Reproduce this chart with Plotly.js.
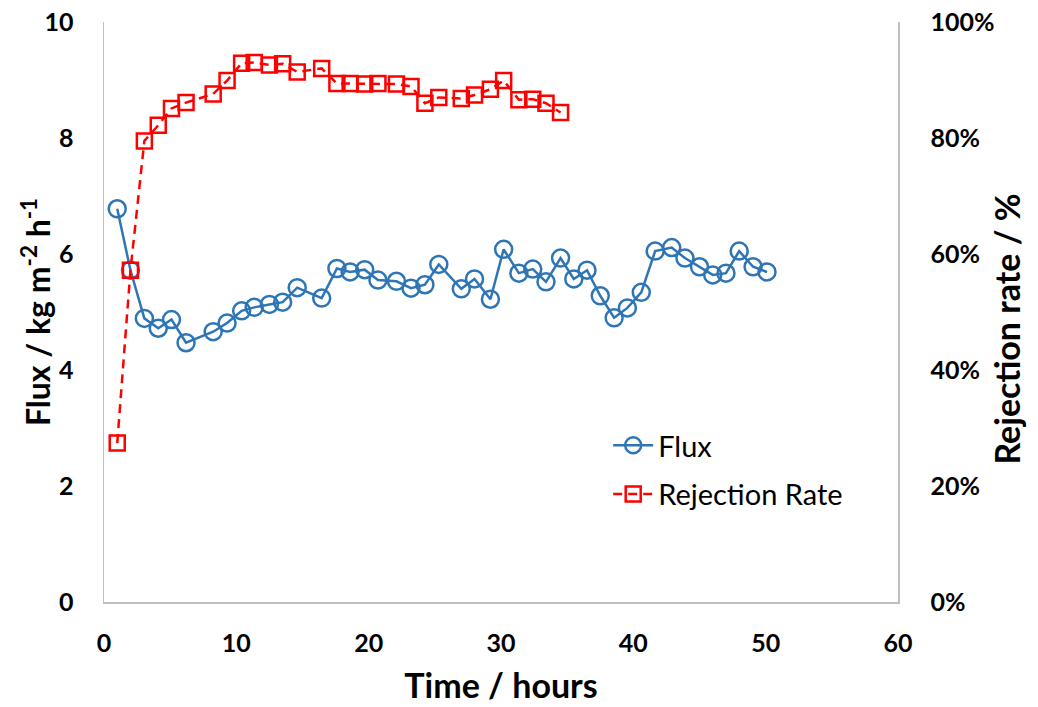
<!DOCTYPE html>
<html>
<head>
<meta charset="utf-8">
<script src="https://cdn.plot.ly/plotly-3.0.1.min.js"></script>
<style>html,body{margin:0;padding:0;background:#fff;}#chart{width:1038px;height:707px;}</style>
</head>
<body>
<div id="chart"></div>
<script>
// Time in hours
const timeHours = [1.0, 2.0, 3.05, 4.1, 5.1, 6.2, 8.25, 9.3, 10.4, 11.35, 12.5, 13.5, 14.6, 16.45, 17.6,
  18.6, 19.7, 20.7, 22.1, 23.2, 24.25, 25.3, 27.0, 28.0, 29.2, 30.2, 31.35, 32.4, 33.4, 34.5,
  35.5, 36.5, 37.5, 38.55, 39.55, 40.6, 41.65, 42.9, 43.9, 45.0, 46.0, 47.0, 48.0, 49.05, 50.1];
// Flux / kg m-2 h-1
const flux = [6.78, 5.72, 4.89, 4.72, 4.87, 4.47, 4.66, 4.81, 5.02, 5.08, 5.13, 5.17, 5.42, 5.24, 5.75,
  5.69, 5.73, 5.55, 5.53, 5.41, 5.47, 5.82, 5.40, 5.57, 5.22, 6.08, 5.67, 5.74, 5.52, 5.93,
  5.57, 5.72, 5.28, 4.90, 5.07, 5.34, 6.05, 6.11, 5.93, 5.78, 5.64, 5.67, 6.05, 5.78, 5.69];
// Rejection rate (fraction)
const rejection = [0.274, 0.572, 0.795, 0.822, 0.851, 0.861, 0.876, 0.899, 0.929, 0.930, 0.926, 0.928, 0.914, 0.920, 0.894,
  0.894, 0.893, 0.894, 0.893, 0.889, 0.860, 0.870, 0.868, 0.874, 0.884, 0.899, 0.866, 0.867, 0.860, 0.844];
const xTicks = [0, 10, 20, 30, 40, 50, 60];

const FONT = 'Lato, "Liberation Sans", sans-serif';
const blue = '#2E75B6';
const red = '#FF0000';

const traces = [
  {
    x: timeHours, y: flux, name: 'Flux', type: 'scatter', mode: 'lines+markers', legendgroup: 'a',
    line: {color: blue, width: 2.5},
    marker: {symbol: 'circle-open', size: 17, color: blue, line: {width: 2.5, color: blue}},
    yaxis: 'y'
  },
  {
    x: timeHours.slice(0, rejection.length), y: rejection, name: 'Rejection Rate', type: 'scatter', mode: 'lines+markers', legendgroup: 'b',
    line: {color: red, width: 2.5, dash: '9px,6px'},
    marker: {symbol: 'square-open', size: 15, color: red, line: {width: 2.5, color: red}},
    yaxis: 'y2'
  }
];

const layout = {
  width: 1038, height: 707,
  margin: {l: 104, r: 140, t: 22, b: 105},
  paper_bgcolor: '#fff', plot_bgcolor: '#fff',
  font: {family: FONT, color: '#000'},
  showlegend: true,
  legend: {x: 0.635, y: 0.314, xanchor: 'left', yanchor: 'top', font: {size: 29, family: FONT, color: '#000'},
    bgcolor: 'rgba(0,0,0,0)', tracegroupgap: 8, itemwidth: 40},
  xaxis: {
    range: [0, 60], tickvals: xTicks, ticktext: xTicks.map(String),
    showgrid: false, zeroline: false, showline: true, linecolor: '#BFBFBF', linewidth: 1.5,
    ticks: '', ticklabelstandoff: 18,
    tickfont: {size: 25, family: FONT, weight: 'bold'},
    title: {text: '<b>Time / hours</b>', font: {size: 34, family: FONT}, standoff: 18}
  },
  yaxis: {
    range: [0, 10], dtick: 2, showgrid: false, zeroline: false,
    showline: true, linecolor: '#BFBFBF', linewidth: 1.5, ticks: '', ticklabelstandoff: 24,
    tickfont: {size: 25, family: FONT, weight: 'bold'}
  },
  yaxis2: {
    range: [0, 1], dtick: 0.2, tickformat: '.0%', overlaying: 'y', side: 'right',
    showgrid: false, zeroline: false, showline: true, linecolor: '#BFBFBF', linewidth: 1.5,
    ticks: '', ticklabelstandoff: 26,
    tickfont: {size: 25, family: FONT, weight: 'bold'}
  },
  annotations: [
    {
      text: '<b>Flux / kg m<sup>-2</sup> h<sup>-1</sup></b>', textangle: -90, showarrow: false,
      xref: 'paper', yref: 'paper', x: -0.0856, y: 0.5, xanchor: 'center', yanchor: 'middle',
      font: {size: 32, family: FONT, color: '#000'}
    },
    {
      text: '<b>Rejection rate / %</b>', textangle: -90, showarrow: false,
      xref: 'paper', yref: 'paper', x: 1.137, y: 0.471, xanchor: 'center', yanchor: 'middle',
      font: {size: 34, family: FONT, color: '#000'}
    }
  ]
};

Plotly.newPlot('chart', traces, layout, {displayModeBar: false, staticPlot: true});
</script>
</body>
</html>
